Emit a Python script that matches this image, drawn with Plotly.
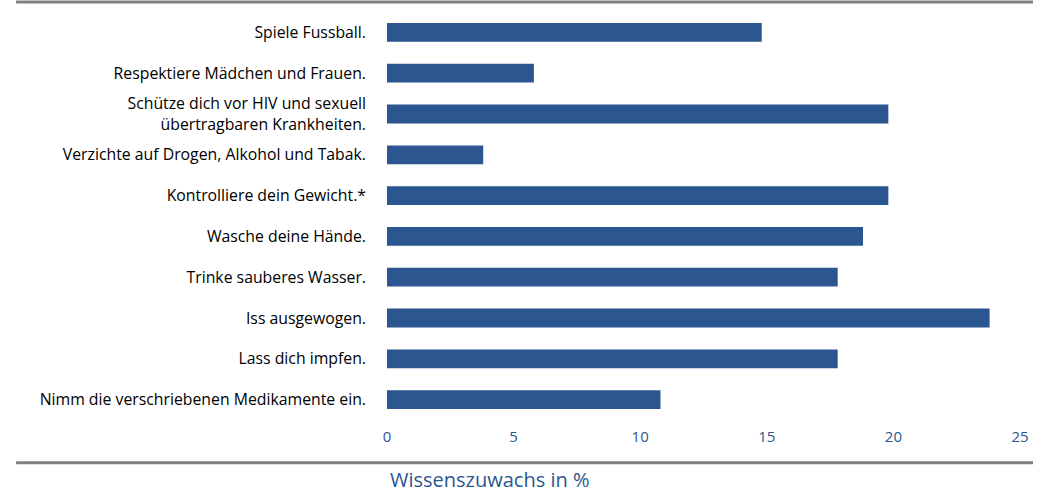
import plotly.graph_objects as go

# Daten (von oben nach unten)
massnahmen = [
    "Spiele Fussball.",
    "Respektiere Mädchen und Frauen.",
    "Schütze dich vor HIV und sexuell<br>übertragbaren Krankheiten.",
    "Verzichte auf Drogen, Alkohol und Tabak.",
    "Kontrolliere dein Gewicht.*",
    "Wasche deine Hände.",
    "Trinke sauberes Wasser.",
    "Iss ausgewogen.",
    "Lass dich impfen.",
    "Nimm die verschriebenen Medikamente ein.",
]
wissenszuwachs = [14.8, 5.8, 19.8, 3.8, 19.8, 18.8, 17.8, 23.8, 17.8, 10.8]
x_ticks = [0, 5, 10, 15, 20, 25]

BLAU = "#2b5690"
GRAU = "#808080"

fig = go.Figure()
fig.add_trace(
    go.Bar(
        x=wissenszuwachs,
        y=massnahmen,
        orientation="h",
        width=0.46,
        marker=dict(color=BLAU, line=dict(width=0)),
        hoverinfo="x+y",
    )
)

fig.update_layout(
    width=1041,
    height=492,
    margin=dict(l=387, r=19, t=12, b=72),
    plot_bgcolor="white",
    paper_bgcolor="white",
    showlegend=False,
    font=dict(family="Open Sans", size=15.8, color="black"),
)

fig.update_xaxes(
    range=[0, 25],
    tickvals=x_ticks,
    showgrid=False,
    zeroline=False,
    showline=False,
    tickfont=dict(size=15, color=BLAU),
    ticklabelstandoff=6,
)
fig.update_yaxes(
    categoryorder="array",
    categoryarray=massnahmen[::-1],
    showgrid=False,
    zeroline=False,
    showline=False,
    tickfont=dict(size=15.8, color="black"),
    ticklabelstandoff=20,
)

# Trennlinien oben und unten
for y in (1.0245, -0.105):
    fig.add_shape(
        type="line",
        xref="paper",
        yref="paper",
        x0=-0.586,
        x1=1.0205,
        y0=y,
        y1=y,
        line=dict(color=GRAU, width=3),
    )

fig.add_annotation(
    text="Wissenszuwachs in %",
    xref="paper",
    yref="paper",
    x=(490 - 387) / 635,
    y=(420 - 480) / 408,
    xanchor="center",
    yanchor="middle",
    showarrow=False,
    font=dict(size=20, color=BLAU),
)

# Body-Rand der Seite entfernen, damit die Figur bei (0, 0) beginnt
fig.write_html(
    "out.html",
    config={"displayModeBar": False},
    post_script="document.body.style.margin = '0';",
)
